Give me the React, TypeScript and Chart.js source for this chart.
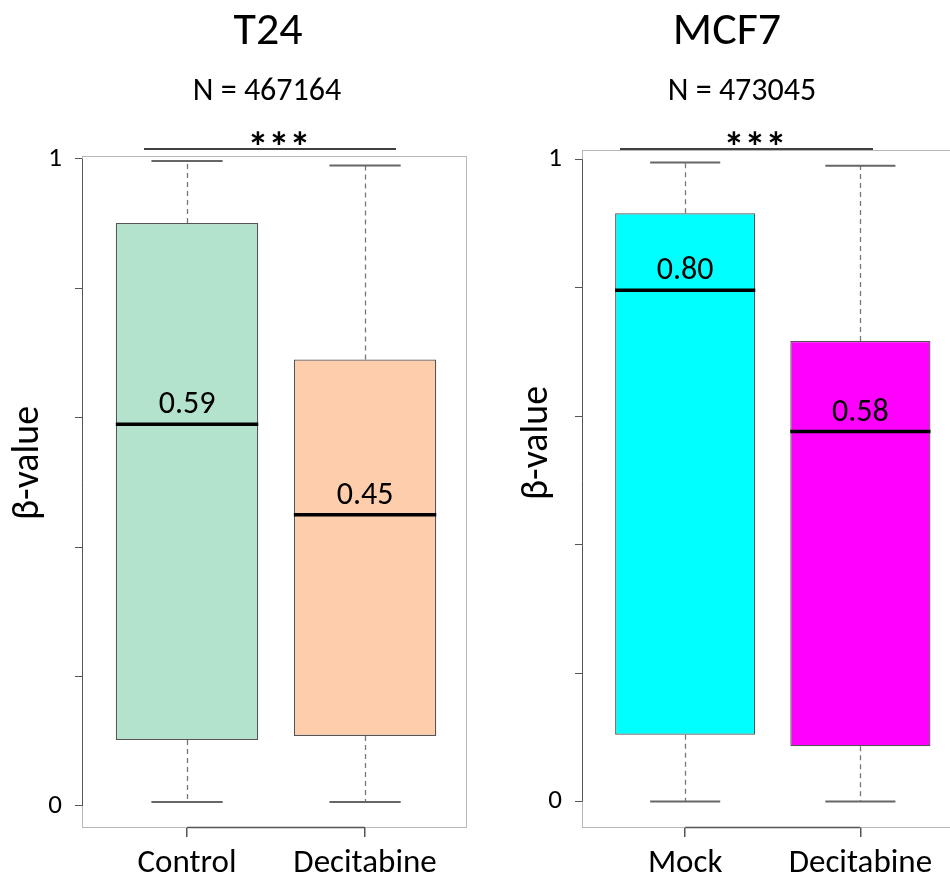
import React, { useEffect, useRef } from 'react';
import { Chart, registerables } from 'chart.js';

Chart.register(...registerables);

const FONT = 'Carlito, Calibri, Lato, "Noto Sans", sans-serif';

// ---- T24 panel ----
const t24Title = 'T24';
const t24N = 467164;
const t24Categories = ['Control', 'Decitabine'];
const t24Colors = ['#b3e2cd', '#fdcdac'];
const t24Min = [0.006, 0.006];
const t24Q1 = [0.102, 0.108];
const t24Median = [0.59, 0.45];
const t24Q3 = [0.901, 0.69];
const t24Max = [0.997, 0.99];

// ---- MCF7 panel ----
const mcf7Title = 'MCF7';
const mcf7N = 473045;
const mcf7Categories = ['Mock', 'Decitabine'];
const mcf7Colors = ['#00ffff', '#ff00ff'];
const mcf7Min = [0.0, 0.0];
const mcf7Q1 = [0.104, 0.086];
const mcf7Median = [0.796, 0.576];
const mcf7Q3 = [0.916, 0.717];
const mcf7Max = [0.995, 0.99];

// ---- shared ----
const yTickValues = [0, 0.2, 0.4, 0.6, 0.8, 1];
const yTickLabels = ['0', '', '', '', '', '1'];
const significance = '***';
const yAxisTitle = 'β-value';

type Panel = {
  title: string;
  n: number;
  categories: string[];
  colors: string[];
  min: number[];
  q1: number[];
  median: number[];
  q3: number[];
  max: number[];
  layout: {
    left: number;
    width: number;
    padTop: number;
    padRight: number;
    yAxisWidth: number;
    xAxisHeight: number;
    yMin: number;
    yMax: number;
    xMin: number;
    xMax: number;
    titleX: number;
    nX: number;
    sigX1: number;
    sigX2: number;
    sigY: number;
    starsX: number;
    yTitleX: number;
    yTitleY: number;
  };
};

const panels: Panel[] = [
  {
    title: t24Title, n: t24N, categories: t24Categories, colors: t24Colors,
    min: t24Min, q1: t24Q1, median: t24Median, q3: t24Q3, max: t24Max,
    layout: {
      left: 0, width: 475, padTop: 156, padRight: 9, yAxisWidth: 82, xAxisHeight: 53,
      yMin: -0.0325, yMax: 1.0046, xMin: 0.41, xMax: 2.567,
      titleX: 268, nX: 267, sigX1: 144, sigX2: 396, sigY: 149, starsX: 279,
      yTitleX: 28, yTitleY: 463,
    },
  },
  {
    title: mcf7Title, n: mcf7N, categories: mcf7Categories, colors: mcf7Colors,
    min: mcf7Min, q1: mcf7Q1, median: mcf7Median, q3: mcf7Q3, max: mcf7Max,
    layout: {
      left: 475, width: 490, padTop: 150, padRight: 3, yAxisWidth: 107, xAxisHeight: 53,
      yMin: -0.0397, yMax: 1.0145, xMin: 0.411, xMax: 2.58,
      titleX: 252, nX: 267, sigX1: 145, sigX2: 398, sigY: 149, starsX: 280,
      yTitleX: 62, yTitleY: 443,
    },
  },
];

function makeBoxPlugin(p: Panel) {
  return {
    id: 'boxExtras',
    beforeDatasetsDraw(chart: any) {
      const { ctx, chartArea, scales } = chart;
      const x = scales.x;
      const y = scales.y;
      ctx.save();
      // frame
      ctx.strokeStyle = '#b8b8b8';
      ctx.lineWidth = 1;
      ctx.strokeRect(chartArea.left + 0.5, chartArea.top + 0.5, chartArea.right - chartArea.left, chartArea.bottom - chartArea.top);
      // y axis segment
      ctx.strokeStyle = '#555';
      ctx.beginPath();
      ctx.moveTo(chartArea.left + 0.5, y.getPixelForValue(yTickValues[0]));
      ctx.lineTo(chartArea.left + 0.5, y.getPixelForValue(yTickValues[yTickValues.length - 1]));
      ctx.stroke();
      // x axis segment
      ctx.lineWidth = 1.5;
      ctx.beginPath();
      ctx.moveTo(x.getPixelForValue(1), chartArea.bottom + 0.5);
      ctx.lineTo(x.getPixelForValue(p.categories.length), chartArea.bottom + 0.5);
      ctx.stroke();
      // whiskers
      ctx.strokeStyle = '#777';
      ctx.lineWidth = 1.3;
      ctx.setLineDash([5, 4]);
      p.categories.forEach((_, i) => {
        const cx = Math.round(x.getPixelForValue(i + 1)) + 0.5;
        ctx.beginPath();
        ctx.moveTo(cx, y.getPixelForValue(p.q3[i]));
        ctx.lineTo(cx, y.getPixelForValue(p.max[i]));
        ctx.moveTo(cx, y.getPixelForValue(p.q1[i]));
        ctx.lineTo(cx, y.getPixelForValue(p.min[i]));
        ctx.stroke();
      });
      ctx.setLineDash([]);
      // caps
      ctx.strokeStyle = '#666';
      ctx.lineWidth = 2;
      p.categories.forEach((_, i) => {
        const x1 = x.getPixelForValue(i + 1 - 0.2);
        const x2 = x.getPixelForValue(i + 1 + 0.2);
        [p.max[i], p.min[i]].forEach((v) => {
          const yy = y.getPixelForValue(v);
          ctx.beginPath();
          ctx.moveTo(x1, yy);
          ctx.lineTo(x2, yy);
          ctx.stroke();
        });
      });
      ctx.restore();
    },
    afterDatasetsDraw(chart: any) {
      const { ctx, scales } = chart;
      const x = scales.x;
      const y = scales.y;
      ctx.save();
      p.categories.forEach((_, i) => {
        const x1 = x.getPixelForValue(i + 1 - 0.4);
        const x2 = x.getPixelForValue(i + 1 + 0.4);
        const ym = y.getPixelForValue(p.median[i]);
        ctx.strokeStyle = '#000';
        ctx.lineWidth = 3.5;
        ctx.beginPath();
        ctx.moveTo(x1, ym);
        ctx.lineTo(x2, ym);
        ctx.stroke();
        ctx.fillStyle = '#000';
        ctx.font = `32px ${FONT}`;
        ctx.textAlign = 'center';
        ctx.textBaseline = 'alphabetic';
        ctx.fillText(p.median[i].toFixed(2), x.getPixelForValue(i + 1), ym - 11);
      });
      ctx.restore();
    },
    afterDraw(chart: any) {
      const { ctx } = chart;
      const L = p.layout;
      ctx.save();
      ctx.fillStyle = '#000';
      ctx.textAlign = 'center';
      ctx.textBaseline = 'alphabetic';
      ctx.font = `46px ${FONT}`;
      ctx.fillText(p.title, L.titleX, 44);
      ctx.font = `32px ${FONT}`;
      ctx.fillText(`N = ${p.n}`, L.nX, 100);
      // significance bar
      ctx.strokeStyle = '#000';
      ctx.lineWidth = 1.5;
      ctx.beginPath();
      ctx.moveTo(L.sigX1, L.sigY);
      ctx.lineTo(L.sigX2, L.sigY);
      ctx.stroke();
      ctx.font = `bold 42px ${FONT}`;
      ctx.fillText(significance, L.starsX, 162);
      // y title
      ctx.translate(L.yTitleX, L.yTitleY);
      ctx.rotate(-Math.PI / 2);
      ctx.textBaseline = 'middle';
      ctx.font = `38px ${FONT}`;
      ctx.fillText(yAxisTitle, 0, 0);
      ctx.restore();
    },
  };
}

function BoxPanel({ p }: { p: Panel }) {
  const ref = useRef<HTMLCanvasElement | null>(null);
  useEffect(() => {
    if (!ref.current) return;
    const L = p.layout;
    const chart = new Chart(ref.current, {
      type: 'bar',
      data: {
        datasets: [
          {
            data: p.categories.map((_, i) => ({ x: i + 1, y: [p.q1[i], p.q3[i]] })) as any,
            backgroundColor: p.colors,
            borderColor: '#555',
            borderWidth: 1.3,
            borderSkipped: false,
            categoryPercentage: 1,
            barPercentage: 0.8,
          },
        ],
      },
      options: {
        animation: false,
        responsive: false,
        maintainAspectRatio: false,
        devicePixelRatio: 1,
        layout: { padding: { top: L.padTop, right: L.padRight, left: 0, bottom: 0 } },
        plugins: { legend: { display: false }, tooltip: { enabled: false }, title: { display: false } },
        scales: {
          x: {
            type: 'linear',
            offset: false,
            min: L.xMin,
            max: L.xMax,
            afterBuildTicks: (s: any) => {
              s.ticks = p.categories.map((_, i) => ({ value: i + 1 }));
            },
            afterFit: (s: any) => {
              s.height = L.xAxisHeight;
            },
            ticks: {
              callback: (_v: any, i: number) => p.categories[i],
              font: { family: FONT, size: 33 },
              color: '#000',
              padding: 7,
              maxRotation: 0,
              autoSkip: false,
            },
            grid: { display: true, offset: false, drawOnChartArea: false, drawTicks: true, tickLength: 10, color: '#555', lineWidth: 1.5 },
            border: { display: false },
          },
          y: {
            type: 'linear',
            min: L.yMin,
            max: L.yMax,
            afterBuildTicks: (s: any) => {
              s.ticks = yTickValues.map((v) => ({ value: v }));
            },
            afterFit: (s: any) => {
              s.width = L.yAxisWidth;
            },
            ticks: {
              callback: (_v: any, i: number) => yTickLabels[i],
              font: { family: FONT, size: 27 },
              color: '#000',
              padding: 13,
              autoSkip: false,
            },
            grid: { display: true, drawOnChartArea: false, drawTicks: true, tickLength: 7, color: '#555', lineWidth: 1 },
            border: { display: false },
          },
        },
      },
      plugins: [makeBoxPlugin(p)],
    } as any);
    return () => chart.destroy();
  }, [p]);
  return (
    <canvas
      ref={ref}
      width={p.layout.width}
      height={880}
      style={{ position: 'absolute', left: p.layout.left, top: 0, width: p.layout.width, height: 880 }}
    />
  );
}

export default function App() {
  return (
    <div style={{ position: 'fixed', left: 0, top: 0, width: 950, height: 880, overflow: 'hidden', background: '#fff' }}>
      {panels.map((p, i) => (
        <BoxPanel key={i} p={p} />
      ))}
    </div>
  );
}
